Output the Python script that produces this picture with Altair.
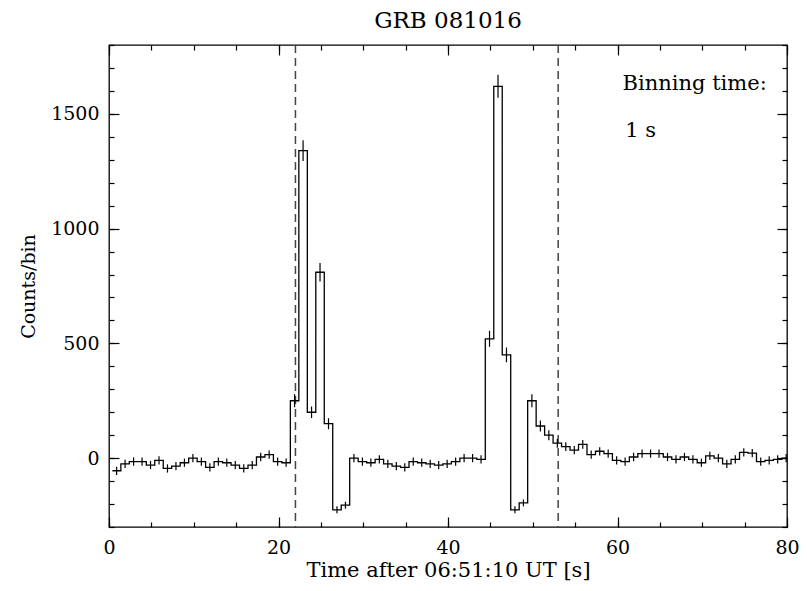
import altair as alt
import pandas as pd

# ---- data ----
bin_offset = 0.4   # start of first 1-s bin [s]
bin_width = 1.0
counts = [-55, -25, -15, -15, -30, -10, -45, -35, -20, 0,
          -15, -40, -15, -20, -30, -45, -30, 5, 15, -15,
          -20, 250, 1340, 200, 810, 150, -225, -205, 0, -15,
          -20, -5, -25, -35, -40, -15, -20, -25, -30, -25,
          -15, 0, 0, -5, 520, 1620, 450, -225, -195, 250,
          140, 100, 65, 50, 35, 60, 15, 30, 20, -10,
          -15, 5, 20, 20, 20, 5, -5, 5, -5, -20,
          10, 0, -25, -5, 25, 22, -15, -10, -5, 0]
errors = [18, 18, 18, 18, 18, 18, 18, 18, 18, 18,
          18, 18, 18, 18, 18, 18, 18, 18, 18, 18,
          18, 28, 45, 25, 40, 24, 15, 15, 18, 18,
          18, 18, 18, 18, 18, 18, 18, 18, 18, 18,
          18, 18, 18, 18, 35, 50, 32, 15, 15, 28,
          24, 22, 20, 19, 18, 19, 18, 18, 18, 18,
          18, 18, 18, 18, 18, 18, 18, 18, 18, 18,
          18, 18, 18, 18, 18, 18, 18, 18, 18, 18]
interval_lines = [22, 53]
x_major = [0, 20, 40, 60, 80]
x_minor = [0, 5, 10, 15, 20, 25, 30, 35, 40, 45, 50, 55, 60, 65, 70, 75, 80]
y_major = [0, 500, 1000, 1500]
y_minor = [-300, -200, -100, 0, 100, 200, 300, 400, 500, 600, 700, 800, 900,
           1000, 1100, 1200, 1300, 1400, 1500, 1600, 1700, 1800]
notes = ["Binning time:", "1 s"]
note_x = [60.6, 60.9]
note_y = [1630, 1425]

n = len(counts)
starts = [bin_offset + k * bin_width for k in range(n)]
step_df = pd.DataFrame({"t": starts + [starts[-1] + bin_width],
                        "c": counts + [counts[-1]]})
err_df = pd.DataFrame({"t": [s + bin_width / 2 for s in starts],
                       "lo": [c - e for c, e in zip(counts, errors)],
                       "hi": [c + e for c, e in zip(counts, errors)]})
vline_df = pd.DataFrame({"t": interval_lines})
note_df = pd.DataFrame({"label": notes, "t": note_x, "c": note_y})

FONT = "DejaVu Serif"
xs = alt.Scale(domain=[0, 80], nice=False, zero=False)
ys = alt.Scale(domain=[-300, 1800], nice=False, zero=False)

def tick_axis(orient, values, size):
    return alt.Axis(orient=orient, values=values, tickSize=size, offset=-size,
                    labels=False, domain=False, grid=False, title=None,
                    tickColor="black", tickWidth=1.2)

def axis_layer(xaxis, yaxis):
    return alt.Chart(step_df).mark_line(strokeOpacity=0).encode(
        x=alt.X("t:Q", scale=xs, axis=xaxis),
        y=alt.Y("c:Q", scale=ys, axis=yaxis),
    )

label_layer = axis_layer(
    alt.Axis(orient="bottom", values=x_major, ticks=False, tickSize=0, domain=False,
             grid=False, labelPadding=11, labelFlush=False, format="d",
             title="Time after 06:51:10 UT [s]",
             titlePadding=2, labelFont=FONT, titleFont=FONT, labelFontSize=19,
             titleFontSize=21, titleFontWeight="normal", labelColor="black",
             titleColor="black"),
    alt.Axis(orient="left", values=y_major, ticks=False, tickSize=0, domain=False,
             grid=False, labelPadding=10, labelFlush=False, format="d",
             title="Counts/bin", titlePadding=12,
             labelFont=FONT, titleFont=FONT, labelFontSize=19, titleFontSize=19,
             titleFontWeight="normal", labelColor="black", titleColor="black"),
)
ax2 = axis_layer(tick_axis("bottom", x_major, 10), tick_axis("left", y_major, 10))
ax3 = axis_layer(tick_axis("bottom", x_minor, 5), tick_axis("left", y_minor, 5))
ax4 = axis_layer(tick_axis("top", x_major, 10), tick_axis("right", y_major, 10))
ax5 = axis_layer(tick_axis("top", x_minor, 5), tick_axis("right", y_minor, 5))

step = alt.Chart(step_df).mark_line(interpolate="step-after", color="black",
                                    strokeWidth=1.3, clip=True).encode(
    x=alt.X("t:Q", scale=xs, axis=None),
    y=alt.Y("c:Q", scale=ys, axis=None),
)
errs = alt.Chart(err_df).mark_rule(color="black", strokeWidth=1.2, clip=True).encode(
    x=alt.X("t:Q", scale=xs, axis=None),
    y=alt.Y("lo:Q", scale=ys, axis=None),
    y2="hi:Q",
)
vlines = alt.Chart(vline_df).mark_rule(color="#444444", strokeWidth=1.5,
                                       strokeDash=[8, 5]).encode(
    x=alt.X("t:Q", scale=xs, axis=None),
)
texts = alt.Chart(note_df).mark_text(align="left", baseline="middle", font=FONT,
                                     fontSize=21, color="black").encode(
    x=alt.X("t:Q", scale=xs, axis=None),
    y=alt.Y("c:Q", scale=ys, axis=None),
    text="label:N",
)

chart = alt.layer(label_layer, ax2, ax3, ax4, ax5, vlines, step, errs, texts).resolve_axis(
    x="independent", y="independent"
).properties(
    width=678, height=482,
    title=alt.TitleParams("GRB 081016", font=FONT, fontSize=23, fontWeight="normal",
                          color="black", offset=11, anchor="middle"),
    autosize=alt.AutoSizeParams(type="none"),
    padding={"left": 101, "top": 37, "right": 12, "bottom": 56},
).configure_view(stroke="black", strokeWidth=1.3)

chart.save("out.html", embed_options={"renderer": "svg", "actions": False})
